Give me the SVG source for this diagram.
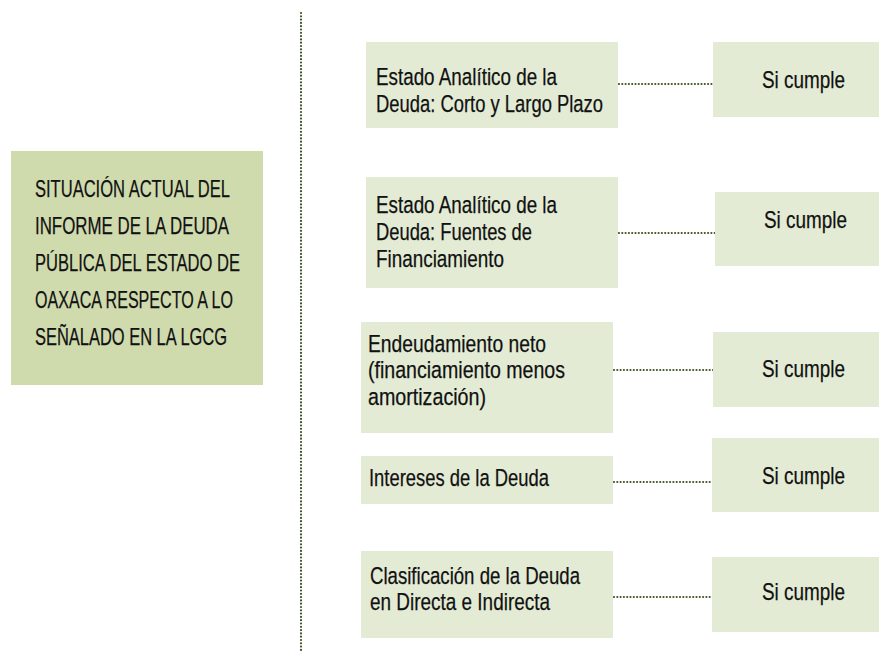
<svg xmlns="http://www.w3.org/2000/svg" width="879" height="654" viewBox="0 0 879 654">
<style>
  .main { fill: #cfdaad; }
  .box { fill: #e3ebd4; }
  .t { font-family: "Liberation Sans Narrow", "Liberation Sans", Arial, sans-serif; font-size: 24.5px; fill: #111; stroke: #111; stroke-width: 0.25; }
  .dot { stroke: #3f5220; stroke-width: 2.2; stroke-linecap: round; stroke-dasharray: 0 3.3; fill: none; }
</style>
<rect width="879" height="654" fill="#ffffff"/>
<g id="connectors">
  <line class="dot" x1="301" y1="13" x2="301" y2="650"/>
  <line class="dot" x1="619" y1="84" x2="713" y2="84"/>
  <line class="dot" x1="619" y1="233" x2="715" y2="233"/>
  <line class="dot" x1="614" y1="370" x2="713" y2="370"/>
  <line class="dot" x1="614" y1="482" x2="712" y2="482"/>
  <line class="dot" x1="614" y1="597" x2="712" y2="597"/>
</g>
<g id="main">
  <rect class="main" x="11" y="151" width="252" height="234"/>
  <text class="t" x="35" y="197" textLength="195" lengthAdjust="spacingAndGlyphs">SITUACIÓN ACTUAL DEL</text>
  <text class="t" x="35" y="234" textLength="194" lengthAdjust="spacingAndGlyphs">INFORME DE LA DEUDA</text>
  <text class="t" x="35" y="271" textLength="205" lengthAdjust="spacingAndGlyphs">PÚBLICA DEL ESTADO DE</text>
  <text class="t" x="35" y="308" textLength="198" lengthAdjust="spacingAndGlyphs">OAXACA RESPECTO A LO</text>
  <text class="t" x="35" y="345" textLength="192" lengthAdjust="spacingAndGlyphs">SEÑALADO EN LA LGCG</text>
</g>
<g id="item1">
  <rect class="box" x="366" y="42" width="252" height="86"/>
  <text class="t" x="376" y="85" textLength="181" lengthAdjust="spacingAndGlyphs">Estado Analítico de la</text>
  <text class="t" x="376" y="112" textLength="227" lengthAdjust="spacingAndGlyphs">Deuda: Corto y Largo Plazo</text>
</g>
<g id="item2">
  <rect class="box" x="366" y="177" width="252" height="111"/>
  <text class="t" x="376" y="213" textLength="181" lengthAdjust="spacingAndGlyphs">Estado Analítico de la</text>
  <text class="t" x="376" y="240" textLength="156" lengthAdjust="spacingAndGlyphs">Deuda: Fuentes de</text>
  <text class="t" x="376" y="267" textLength="128" lengthAdjust="spacingAndGlyphs">Financiamiento</text>
</g>
<g id="item3">
  <rect class="box" x="361" y="322" width="252" height="111"/>
  <text class="t" x="368" y="352" textLength="178" lengthAdjust="spacingAndGlyphs">Endeudamiento neto</text>
  <text class="t" x="368" y="378" textLength="197" lengthAdjust="spacingAndGlyphs">(financiamiento menos</text>
  <text class="t" x="368" y="405" textLength="118" lengthAdjust="spacingAndGlyphs">amortización)</text>
</g>
<g id="item4">
  <rect class="box" x="361" y="456" width="252" height="48"/>
  <text class="t" x="369" y="486" textLength="180" lengthAdjust="spacingAndGlyphs">Intereses de la Deuda</text>
</g>
<g id="item5">
  <rect class="box" x="361" y="551" width="252" height="87"/>
  <text class="t" x="370" y="584" textLength="210" lengthAdjust="spacingAndGlyphs">Clasificación de la Deuda</text>
  <text class="t" x="370" y="610" textLength="180" lengthAdjust="spacingAndGlyphs">en Directa e Indirecta</text>
</g>
<g id="result1">
  <rect class="box" x="713" y="42" width="166" height="75"/>
  <text class="t" x="762" y="88" textLength="83" lengthAdjust="spacingAndGlyphs">Si cumple</text>
</g>
<g id="result2">
  <rect class="box" x="715" y="192" width="164" height="74"/>
  <text class="t" x="764" y="228" textLength="83" lengthAdjust="spacingAndGlyphs">Si cumple</text>
</g>
<g id="result3">
  <rect class="box" x="713" y="332" width="166" height="75"/>
  <text class="t" x="762" y="377" textLength="83" lengthAdjust="spacingAndGlyphs">Si cumple</text>
</g>
<g id="result4">
  <rect class="box" x="712" y="438" width="167" height="74"/>
  <text class="t" x="762" y="484" textLength="83" lengthAdjust="spacingAndGlyphs">Si cumple</text>
</g>
<g id="result5">
  <rect class="box" x="712" y="557" width="167" height="75"/>
  <text class="t" x="762" y="600" textLength="83" lengthAdjust="spacingAndGlyphs">Si cumple</text>
</g>
</svg>
